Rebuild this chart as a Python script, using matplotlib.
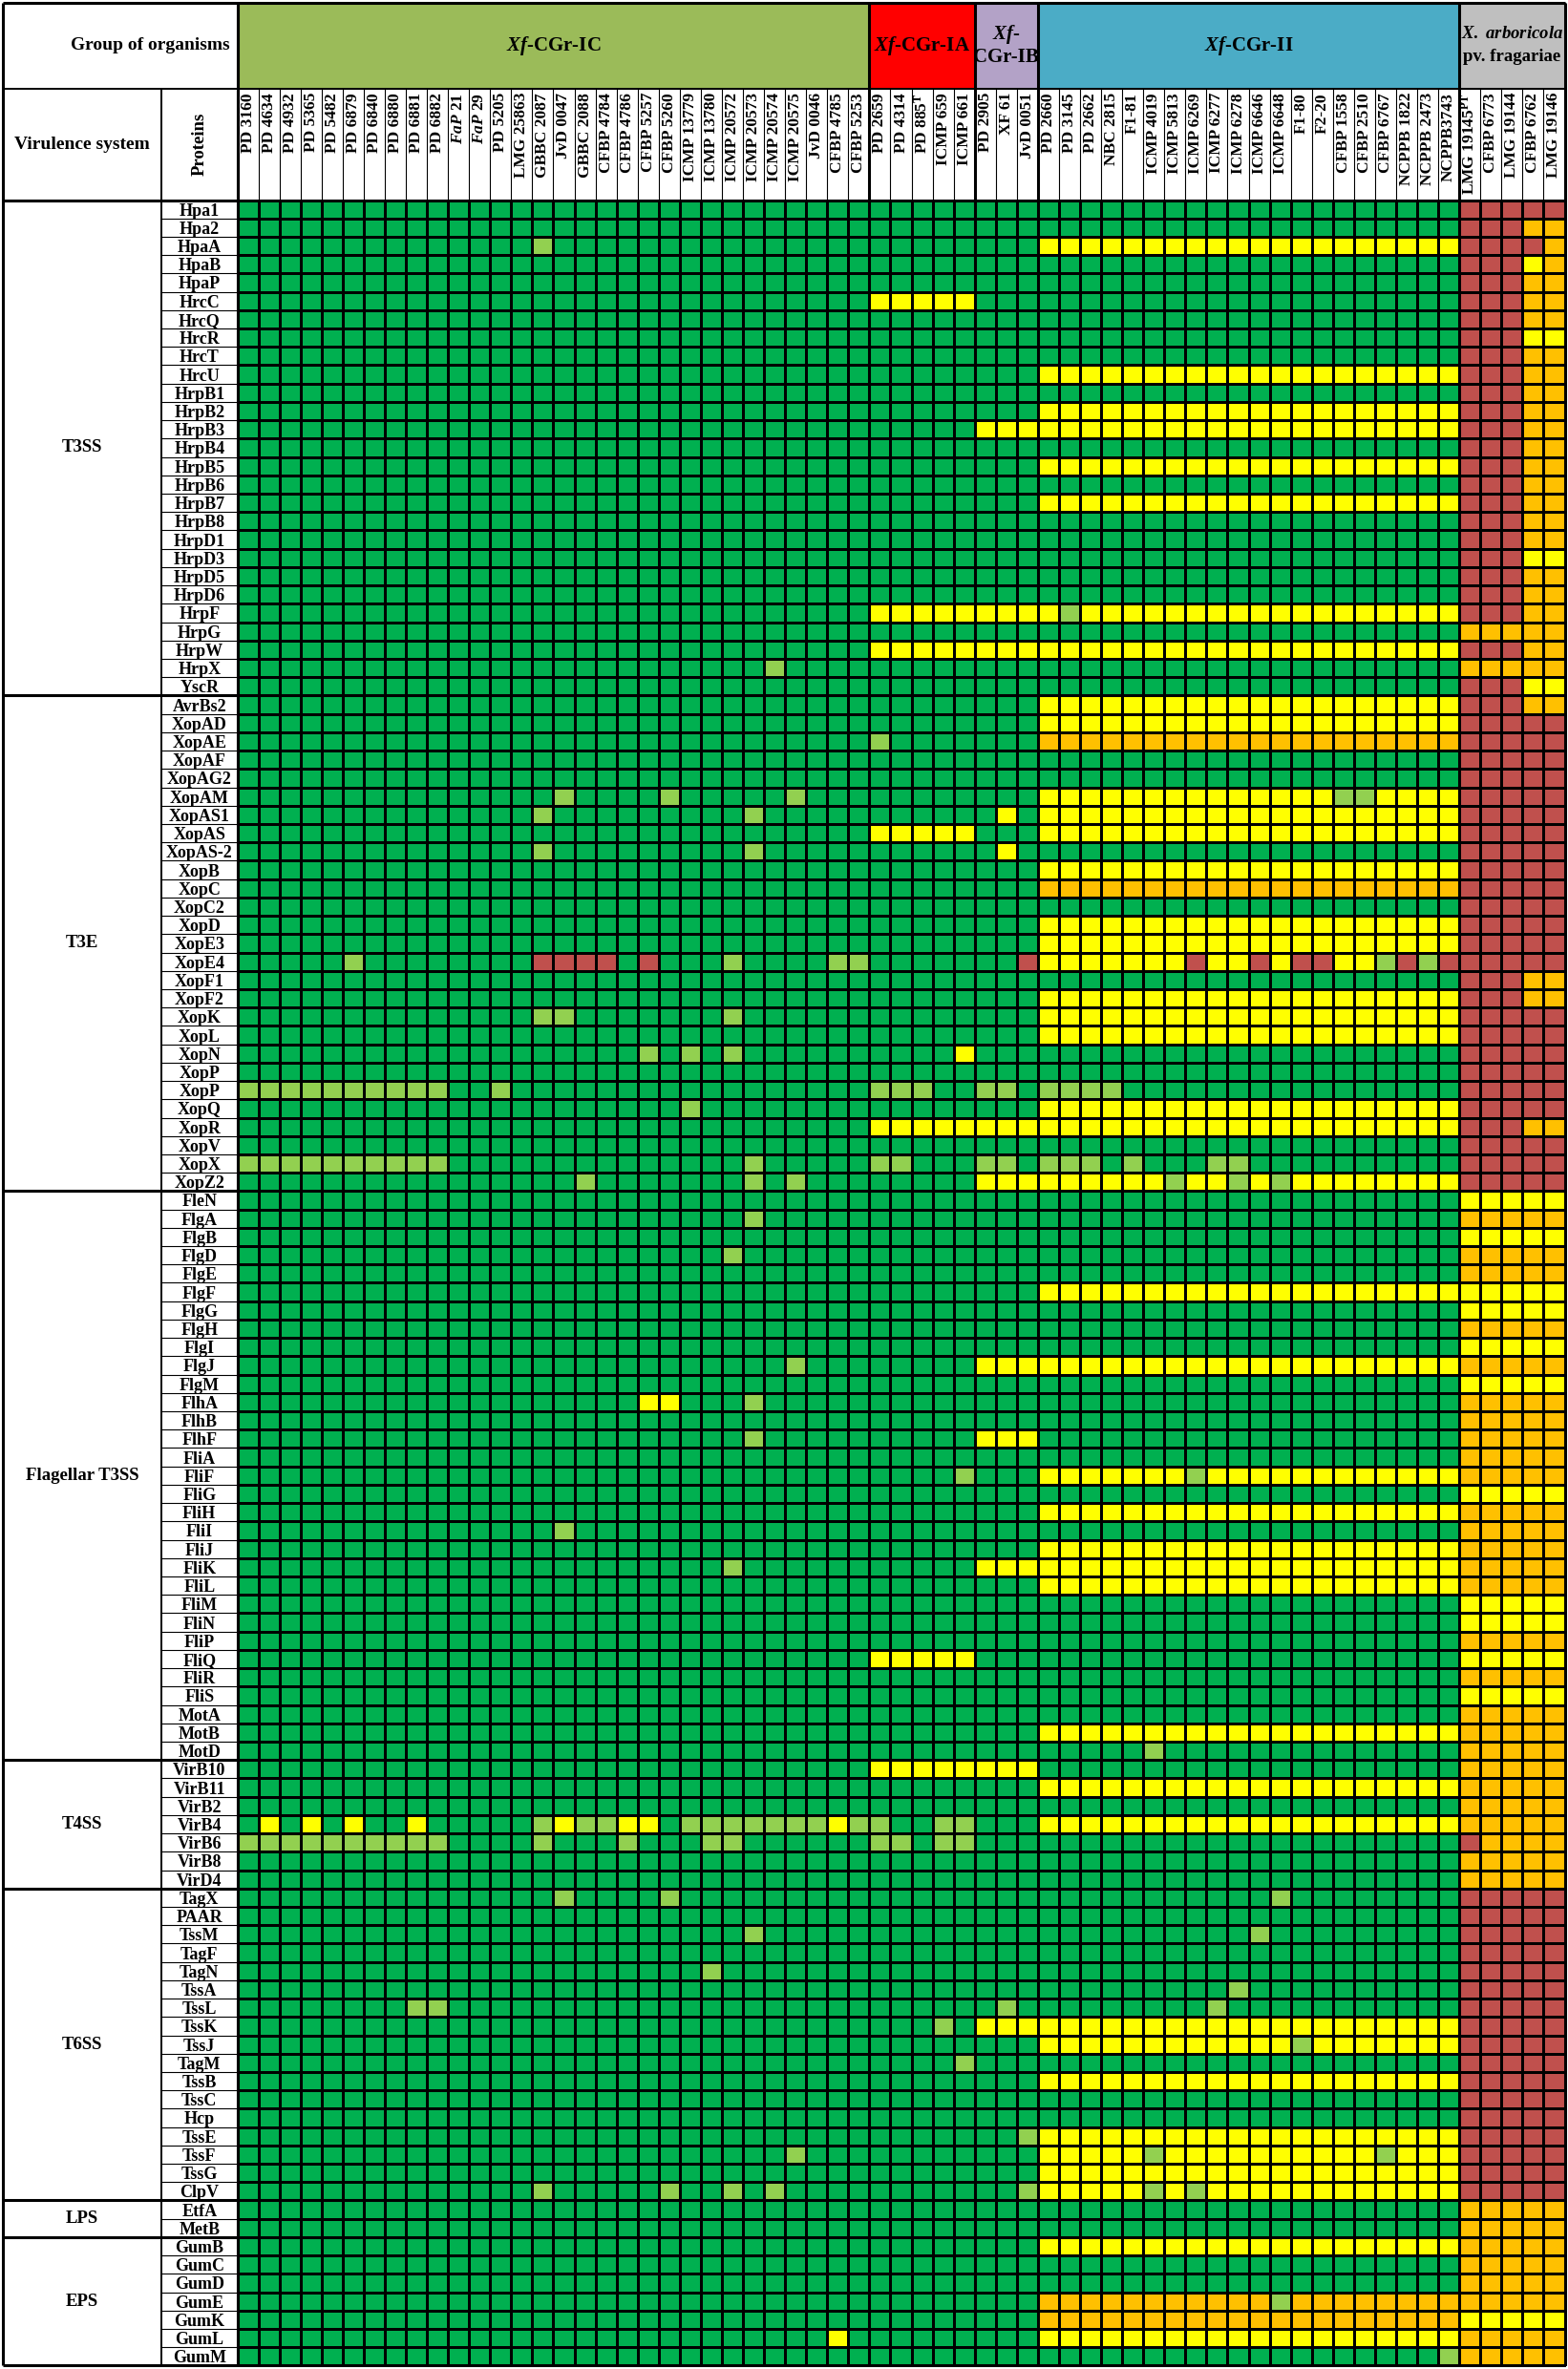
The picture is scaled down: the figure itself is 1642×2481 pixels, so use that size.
import numpy as np
import matplotlib.pyplot as plt
from matplotlib.colors import ListedColormap
from matplotlib.patches import Rectangle

plt.rcParams['font.family'] = ['Liberation Serif', 'DejaVu Serif']
plt.rcParams['font.weight'] = 'bold'
plt.rcParams['mathtext.fontset'] = 'custom'
plt.rcParams['mathtext.rm'] = 'Liberation Serif:bold'
plt.rcParams['mathtext.it'] = 'Liberation Serif:italic:bold'
plt.rcParams['mathtext.bf'] = 'Liberation Serif:bold'

# strain groups (columns)
group_colors = ['#9BBB59', '#FF0000', '#B3A2C7', '#4BACC6', '#BFBFBF']
ic_strains = ['PD 3160', 'PD 4634', 'PD 4932', 'PD 5365', 'PD 5482', 'PD 6879', 'PD 6840',
              'PD 6880', 'PD 6881', 'PD 6882', r'$\mathit{FaP}$ 21', r'$\mathit{FaP}$ 29',
              'PD 5205', 'LMG 25863', 'GBBC 2087', 'JvD 0047', 'GBBC 2088', 'CFBP 4784',
              'CFBP 4786', 'CFBP 5257', 'CFBP 5260', 'ICMP 13779', 'ICMP 13780', 'ICMP 20572',
              'ICMP 20573', 'ICMP 20574', 'ICMP 20575', 'JvD 0046', 'CFBP 4785', 'CFBP 5253']
ia_strains = ['PD 2659', 'PD 4314', r'PD 885$^{\mathrm{T}}$', 'ICMP 659', 'ICMP 661']
ib_strains = ['PD 2905', 'XF 61', 'JvD 0051']
ii_strains = ['PD 2660', 'PD 3145', 'PD 2662', 'NBC 2815', 'F1-81', 'ICMP 4019', 'ICMP 5813',
              'ICMP 6269', 'ICMP 6277', 'ICMP 6278', 'ICMP 6646', 'ICMP 6648', 'F1-80', 'F2-20',
              'CFBP 1558', 'CFBP 2510', 'CFBP 6767', 'NCPPB 1822', 'NCPPB 2473', 'NCPPB3743']
arb_strains = [r'LMG 19145$^{\mathrm{PT}}$', 'CFBP 6773', 'LMG 19144', 'CFBP 6762', 'LMG 19146']

# cell codes: G present, g light green, Y yellow, O orange, R absent (red)
# layout of each string: IC(10 10 10) | IA | IB | II(10 10) | X. arboricola
systems = ['T3SS', 'T3E', 'Flagellar T3SS', 'T4SS', 'T6SS', 'LPS', 'EPS']

t3ss_proteins = ['Hpa1', 'Hpa2', 'HpaA', 'HpaB', 'HpaP', 'HrcC', 'HrcQ', 'HrcR', 'HrcT', 'HrcU',
                 'HrpB1', 'HrpB2', 'HrpB3', 'HrpB4', 'HrpB5', 'HrpB6', 'HrpB7', 'HrpB8', 'HrpD1',
                 'HrpD3', 'HrpD5', 'HrpD6', 'HrpF', 'HrpG', 'HrpW', 'HrpX', 'YscR']
t3ss_cells = [
    'GGGGGGGGGG GGGGGGGGGG GGGGGGGGGG|GGGGG|GGG|GGGGGGGGGG GGGGGGGGGG|RRRRR',
    'GGGGGGGGGG GGGGGGGGGG GGGGGGGGGG|GGGGG|GGG|GGGGGGGGGG GGGGGGGGGG|RRROO',
    'GGGGGGGGGG GGGGgGGGGG GGGGGGGGGG|GGGGG|GGG|YYYYYYYYYY YYYYYYYYYY|RRRRO',
    'GGGGGGGGGG GGGGGGGGGG GGGGGGGGGG|GGGGG|GGG|GGGGGGGGGG GGGGGGGGGG|RRRYO',
    'GGGGGGGGGG GGGGGGGGGG GGGGGGGGGG|GGGGG|GGG|GGGGGGGGGG GGGGGGGGGG|RRROO',
    'GGGGGGGGGG GGGGGGGGGG GGGGGGGGGG|YYYYY|GGG|GGGGGGGGGG GGGGGGGGGG|RRROO',
    'GGGGGGGGGG GGGGGGGGGG GGGGGGGGGG|GGGGG|GGG|GGGGGGGGGG GGGGGGGGGG|RRROO',
    'GGGGGGGGGG GGGGGGGGGG GGGGGGGGGG|GGGGG|GGG|GGGGGGGGGG GGGGGGGGGG|RRRYY',
    'GGGGGGGGGG GGGGGGGGGG GGGGGGGGGG|GGGGG|GGG|GGGGGGGGGG GGGGGGGGGG|RRROO',
    'GGGGGGGGGG GGGGGGGGGG GGGGGGGGGG|GGGGG|GGG|YYYYYYYYYY YYYYYYYYYY|RRROO',
    'GGGGGGGGGG GGGGGGGGGG GGGGGGGGGG|GGGGG|GGG|GGGGGGGGGG GGGGGGGGGG|RRROO',
    'GGGGGGGGGG GGGGGGGGGG GGGGGGGGGG|GGGGG|GGG|YYYYYYYYYY YYYYYYYYYY|RRROO',
    'GGGGGGGGGG GGGGGGGGGG GGGGGGGGGG|GGGGG|YYY|YYYYYYYYYY YYYYYYYYYY|RRROO',
    'GGGGGGGGGG GGGGGGGGGG GGGGGGGGGG|GGGGG|GGG|GGGGGGGGGG GGGGGGGGGG|RRROO',
    'GGGGGGGGGG GGGGGGGGGG GGGGGGGGGG|GGGGG|GGG|YYYYYYYYYY YYYYYYYYYY|RRROO',
    'GGGGGGGGGG GGGGGGGGGG GGGGGGGGGG|GGGGG|GGG|GGGGGGGGGG GGGGGGGGGG|RRROO',
    'GGGGGGGGGG GGGGGGGGGG GGGGGGGGGG|GGGGG|GGG|YYYYYYYYYY YYYYYYYYYY|RRROO',
    'GGGGGGGGGG GGGGGGGGGG GGGGGGGGGG|GGGGG|GGG|GGGGGGGGGG GGGGGGGGGG|RRROO',
    'GGGGGGGGGG GGGGGGGGGG GGGGGGGGGG|GGGGG|GGG|GGGGGGGGGG GGGGGGGGGG|RRROO',
    'GGGGGGGGGG GGGGGGGGGG GGGGGGGGGG|GGGGG|GGG|GGGGGGGGGG GGGGGGGGGG|RRRYY',
    'GGGGGGGGGG GGGGGGGGGG GGGGGGGGGG|GGGGG|GGG|GGGGGGGGGG GGGGGGGGGG|RRROO',
    'GGGGGGGGGG GGGGGGGGGG GGGGGGGGGG|GGGGG|GGG|GGGGGGGGGG GGGGGGGGGG|RRROO',
    'GGGGGGGGGG GGGGGGGGGG GGGGGGGGGG|YYYYY|YYY|YgYYYYYYYY YYYYYYYYYY|RRROO',
    'GGGGGGGGGG GGGGGGGGGG GGGGGGGGGG|GGGGG|GGG|GGGGGGGGGG GGGGGGGGGG|OOOOO',
    'GGGGGGGGGG GGGGGGGGGG GGGGGGGGGG|YYYYY|YYY|YYYYYYYYYY YYYYYYYYYY|RRROO',
    'GGGGGGGGGG GGGGGGGGGG GGGGGgGGGG|GGGGG|GGG|GGGGGGGGGG GGGGGGGGGG|OOOOO',
    'GGGGGGGGGG GGGGGGGGGG GGGGGGGGGG|GGGGG|GGG|GGGGGGGGGG GGGGGGGGGG|RRRYY',
]

t3e_proteins = ['AvrBs2', 'XopAD', 'XopAE', 'XopAF', 'XopAG2', 'XopAM', 'XopAS1', 'XopAS',
                'XopAS-2', 'XopB', 'XopC', 'XopC2', 'XopD', 'XopE3', 'XopE4', 'XopF1', 'XopF2',
                'XopK', 'XopL', 'XopN', 'XopP', 'XopP', 'XopQ', 'XopR', 'XopV', 'XopX', 'XopZ2']
t3e_cells = [
    'GGGGGGGGGG GGGGGGGGGG GGGGGGGGGG|GGGGG|GGG|YYYYYYYYYY YYYYYYYYYY|RRROO',
    'GGGGGGGGGG GGGGGGGGGG GGGGGGGGGG|GGGGG|GGG|YYYYYYYYYY YYYYYYYYYY|RRRRR',
    'GGGGGGGGGG GGGGGGGGGG GGGGGGGGGG|gGGGG|GGG|OOOOOOOOOO OOOOOOOOOO|RRRRR',
    'GGGGGGGGGG GGGGGGGGGG GGGGGGGGGG|GGGGG|GGG|GGGGGGGGGG GGGGGGGGGG|RRRRR',
    'GGGGGGGGGG GGGGGGGGGG GGGGGGGGGG|GGGGG|GGG|GGGGGGGGGG GGGGGGGGGG|RRRRR',
    'GGGGGGGGGG GGGGGgGGGG gGGGGGgGGG|GGGGG|GGG|YYYYYYYYYY YYYYggYYYY|RRRRR',
    'GGGGGGGGGG GGGGgGGGGG GGGGgGGGGG|GGGGG|GYG|YYYYYYYYYY YYYYYYYYYY|RRRRR',
    'GGGGGGGGGG GGGGGGGGGG GGGGGGGGGG|YYYYY|GGG|YYYYYYYYYY YYYYYYYYYY|RRRRR',
    'GGGGGGGGGG GGGGgGGGGG GGGGgGGGGG|GGGGG|GYG|GGGGGGGGGG GGGGGGGGGG|RRRRR',
    'GGGGGGGGGG GGGGGGGGGG GGGGGGGGGG|GGGGG|GGG|YYYYYYYYYY YYYYYYYYYY|RRRRR',
    'GGGGGGGGGG GGGGGGGGGG GGGGGGGGGG|GGGGG|GGG|OOOOOOOOOO OOOOOOOOOO|RRRRR',
    'GGGGGGGGGG GGGGGGGGGG GGGGGGGGGG|GGGGG|GGG|GGGGGGGGGG GGGGGGGGGG|RRRRR',
    'GGGGGGGGGG GGGGGGGGGG GGGGGGGGGG|GGGGG|GGG|YYYYYYYYYY YYYYYYYYYY|RRRRR',
    'GGGGGGGGGG GGGGGGGGGG GGGGGGGGGG|GGGGG|GGG|YYYYYYYYYY YYYYYYYYYY|RRRRR',
    'GGGGGgGGGG GGGGRRRRGR GGGgGGGGgg|GGGGG|GGR|YYYYYYYRYY RYRRYYgRgR|RRRRR',
    'GGGGGGGGGG GGGGGGGGGG GGGGGGGGGG|GGGGG|GGG|GGGGGGGGGG GGGGGGGGGG|RRROO',
    'GGGGGGGGGG GGGGGGGGGG GGGGGGGGGG|GGGGG|GGG|YYYYYYYYYY YYYYYYYYYY|RRROO',
    'GGGGGGGGGG GGGGggGGGG GGGgGGGGGG|GGGGG|GGG|YYYYYYYYYY YYYYYYYYYY|RRRRR',
    'GGGGGGGGGG GGGGGGGGGG GGGGGGGGGG|GGGGG|GGG|YYYYYYYYYY YYYYYYYYYY|RRRRR',
    'GGGGGGGGGG GGGGGGGGGg GgGgGGGGGG|GGGGY|GGG|GGGGGGGGGG GGGGGGGGGG|RRRRR',
    'GGGGGGGGGG GGGGGGGGGG GGGGGGGGGG|GGGGG|GGG|GGGGGGGGGG GGGGGGGGGG|RRRRR',
    'gggggggggg GGgGGGGGGG GGGGGGGGGG|gggGG|ggG|ggggGGGGGG GGGGGGGGGG|RRRRR',
    'GGGGGGGGGG GGGGGGGGGG GgGGGGGGGG|GGGGG|GGG|YYYYYYYYYY YYYYYYYYYY|RRRRR',
    'GGGGGGGGGG GGGGGGGGGG GGGGGGGGGG|YYYYY|YYY|YYYYYYYYYY YYYYYYYYYY|RRROO',
    'GGGGGGGGGG GGGGGGGGGG GGGGGGGGGG|GGGGG|GGG|GGGGGGGGGG GGGGGGGGGG|RRRRR',
    'gggggggggg GGGGGGGGGG GGGGgGGGGG|ggGGG|ggG|gggGgGGGgg GGGGGGGGGG|RRRRR',
    'GGGGGGGGGG GGGGGGgGGG GGGGgGgGGG|GGGGG|YYY|YYYYYYgYYg YgYYYYYYYY|RRRRR',
]

flag_proteins = ['FleN', 'FlgA', 'FlgB', 'FlgD', 'FlgE', 'FlgF', 'FlgG', 'FlgH', 'FlgI', 'FlgJ',
                 'FlgM', 'FlhA', 'FlhB', 'FlhF', 'FliA', 'FliF', 'FliG', 'FliH', 'FliI', 'FliJ',
                 'FliK', 'FliL', 'FliM', 'FliN', 'FliP', 'FliQ', 'FliR', 'FliS', 'MotA', 'MotB',
                 'MotD']
flag_cells = [
    'GGGGGGGGGG GGGGGGGGGG GGGGGGGGGG|GGGGG|GGG|GGGGGGGGGG GGGGGGGGGG|YYYYY',
    'GGGGGGGGGG GGGGGGGGGG GGGGgGGGGG|GGGGG|GGG|GGGGGGGGGG GGGGGGGGGG|OOOOO',
    'GGGGGGGGGG GGGGGGGGGG GGGGGGGGGG|GGGGG|GGG|GGGGGGGGGG GGGGGGGGGG|YYYYY',
    'GGGGGGGGGG GGGGGGGGGG GGGgGGGGGG|GGGGG|GGG|GGGGGGGGGG GGGGGGGGGG|OOOOO',
    'GGGGGGGGGG GGGGGGGGGG GGGGGGGGGG|GGGGG|GGG|GGGGGGGGGG GGGGGGGGGG|OOOOO',
    'GGGGGGGGGG GGGGGGGGGG GGGGGGGGGG|GGGGG|GGG|YYYYYYYYYY YYYYYYYYYY|YYYYY',
    'GGGGGGGGGG GGGGGGGGGG GGGGGGGGGG|GGGGG|GGG|GGGGGGGGGG GGGGGGGGGG|YYYYY',
    'GGGGGGGGGG GGGGGGGGGG GGGGGGGGGG|GGGGG|GGG|GGGGGGGGGG GGGGGGGGGG|OOOOO',
    'GGGGGGGGGG GGGGGGGGGG GGGGGGGGGG|GGGGG|GGG|GGGGGGGGGG GGGGGGGGGG|YYYYY',
    'GGGGGGGGGG GGGGGGGGGG GGGGGGgGGG|GGGGG|YYY|YYYYYYYYYY YYYYYYYYYY|OOOOO',
    'GGGGGGGGGG GGGGGGGGGG GGGGGGGGGG|GGGGG|GGG|GGGGGGGGGG GGGGGGGGGG|YYYYY',
    'GGGGGGGGGG GGGGGGGGGY YGGGgGGGGG|GGGGG|GGG|GGGGGGGGGG GGGGGGGGGG|OOOOO',
    'GGGGGGGGGG GGGGGGGGGG GGGGGGGGGG|GGGGG|GGG|GGGGGGGGGG GGGGGGGGGG|OOOOO',
    'GGGGGGGGGG GGGGGGGGGG GGGGgGGGGG|GGGGG|YYY|GGGGGGGGGG GGGGGGGGGG|OOOOO',
    'GGGGGGGGGG GGGGGGGGGG GGGGGGGGGG|GGGGG|GGG|GGGGGGGGGG GGGGGGGGGG|OOOOO',
    'GGGGGGGGGG GGGGGGGGGG GGGGGGGGGG|GGGGg|GGG|YYYYYYYgYY YYYYYYYYYY|OOOOO',
    'GGGGGGGGGG GGGGGGGGGG GGGGGGGGGG|GGGGG|GGG|GGGGGGGGGG GGGGGGGGGG|YYYYY',
    'GGGGGGGGGG GGGGGGGGGG GGGGGGGGGG|GGGGG|GGG|YYYYYYYYYY YYYYYYYYYY|OOOOO',
    'GGGGGGGGGG GGGGGgGGGG GGGGGGGGGG|GGGGG|GGG|GGGGGGGGGG GGGGGGGGGG|OOOOO',
    'GGGGGGGGGG GGGGGGGGGG GGGGGGGGGG|GGGGG|GGG|YYYYYYYYYY YYYYYYYYYY|OOOOO',
    'GGGGGGGGGG GGGGGGGGGG GGGgGGGGGG|GGGGG|YYY|YYYYYYYYYY YYYYYYYYYY|OOOOO',
    'GGGGGGGGGG GGGGGGGGGG GGGGGGGGGG|GGGGG|GGG|YYYYYYYYYY YYYYYYYYYY|OOOOO',
    'GGGGGGGGGG GGGGGGGGGG GGGGGGGGGG|GGGGG|GGG|GGGGGGGGGG GGGGGGGGGG|YYYYY',
    'GGGGGGGGGG GGGGGGGGGG GGGGGGGGGG|GGGGG|GGG|GGGGGGGGGG GGGGGGGGGG|YYYYY',
    'GGGGGGGGGG GGGGGGGGGG GGGGGGGGGG|GGGGG|GGG|GGGGGGGGGG GGGGGGGGGG|OOOOO',
    'GGGGGGGGGG GGGGGGGGGG GGGGGGGGGG|YYYYY|GGG|GGGGGGGGGG GGGGGGGGGG|YYYYY',
    'GGGGGGGGGG GGGGGGGGGG GGGGGGGGGG|GGGGG|GGG|GGGGGGGGGG GGGGGGGGGG|OOOOO',
    'GGGGGGGGGG GGGGGGGGGG GGGGGGGGGG|GGGGG|GGG|GGGGGGGGGG GGGGGGGGGG|YYYYY',
    'GGGGGGGGGG GGGGGGGGGG GGGGGGGGGG|GGGGG|GGG|GGGGGGGGGG GGGGGGGGGG|OOOOO',
    'GGGGGGGGGG GGGGGGGGGG GGGGGGGGGG|GGGGG|GGG|YYYYYYYYYY YYYYYYYYYY|OOOOO',
    'GGGGGGGGGG GGGGGGGGGG GGGGGGGGGG|GGGGG|GGG|GGGGGgGGGG GGGGGGGGGG|OOOOO',
]

t4ss_proteins = ['VirB10', 'VirB11', 'VirB2', 'VirB4', 'VirB6', 'VirB8', 'VirD4']
t4ss_cells = [
    'GGGGGGGGGG GGGGGGGGGG GGGGGGGGGG|YYYYY|YYY|GGGGGGGGGG GGGGGGGGGG|OOOOO',
    'GGGGGGGGGG GGGGGGGGGG GGGGGGGGGG|GGGGG|GGG|YYYYYYYYYY YYYYYYYYYY|OOOOO',
    'GGGGGGGGGG GGGGGGGGGG GGGGGGGGGG|GGGGG|GGG|GGGGGGGGGG GGGGGGGGGG|OOOOO',
    'GYGYGYGGYG GGGGgYggYY GgggggggYg|gGGgg|GGG|YYYYYYYYYY YYYYYYYYYY|OOOOO',
    'gggggggggg GGGGgGGGgG GGggGGGGGG|ggGgg|GGG|GGGGGGGGGG GGGGGGGGGG|ROOOO',
    'GGGGGGGGGG GGGGGGGGGG GGGGGGGGGG|GGGGG|GGG|GGGGGGGGGG GGGGGGGGGG|OOOOO',
    'GGGGGGGGGG GGGGGGGGGG GGGGGGGGGG|GGGGG|GGG|GGGGGGGGGG GGGGGGGGGG|OOOOO',
]

t6ss_proteins = ['TagX', 'PAAR', 'TssM', 'TagF', 'TagN', 'TssA', 'TssL', 'TssK', 'TssJ', 'TagM',
                 'TssB', 'TssC', 'Hcp', 'TssE', 'TssF', 'TssG', 'ClpV']
t6ss_cells = [
    'GGGGGGGGGG GGGGGgGGGG gGGGGGGGGG|GGGGG|GGG|GGGGGGGGGG GgGGGGGGGG|RRRRR',
    'GGGGGGGGGG GGGGGGGGGG GGGGGGGGGG|GGGGG|GGG|GGGGGGGGGG GGGGGGGGGG|RRRRR',
    'GGGGGGGGGG GGGGGGGGGG GGGGgGGGGG|GGGGG|GGG|GGGGGGGGGG gGGGGGGGGG|RRRRR',
    'GGGGGGGGGG GGGGGGGGGG GGGGGGGGGG|GGGGG|GGG|GGGGGGGGGG GGGGGGGGGG|RRRRR',
    'GGGGGGGGGG GGGGGGGGGG GGgGGGGGGG|GGGGG|GGG|GGGGGGGGGG GGGGGGGGGG|RRRRR',
    'GGGGGGGGGG GGGGGGGGGG GGGGGGGGGG|GGGGG|GGG|GGGGGGGGGg GGGGGGGGGG|RRRRR',
    'GGGGGGGGgg GGGGGGGGGG GGGGGGGGGG|GGGGG|GgG|GGGGGGGGgG GGGGGGGGGG|RRRRR',
    'GGGGGGGGGG GGGGGGGGGG GGGGGGGGGG|GGGgG|YYY|YYYYYYYYYY YYYYYYYYYY|RRRRR',
    'GGGGGGGGGG GGGGGGGGGG GGGGGGGGGG|GGGGG|GGG|YYYYYYYYYY YYgYYYYYYY|RRRRR',
    'GGGGGGGGGG GGGGGGGGGG GGGGGGGGGG|GGGGg|GGG|GGGGGGGGGG GGGGGGGGGG|RRRRR',
    'GGGGGGGGGG GGGGGGGGGG GGGGGGGGGG|GGGGG|GGG|YYYYYYYYYY YYYYYYYYYY|RRRRR',
    'GGGGGGGGGG GGGGGGGGGG GGGGGGGGGG|GGGGG|GGG|GGGGGGGGGG GGGGGGGGGG|RRRRR',
    'GGGGGGGGGG GGGGGGGGGG GGGGGGGGGG|GGGGG|GGG|GGGGGGGGGG GGGGGGGGGG|RRRRR',
    'GGGGGGGGGG GGGGGGGGGG GGGGGGGGGG|GGGGG|GGg|YYYYYYYYYY YYYYYYYYYY|RRRRR',
    'GGGGGGGGGG GGGGGGGGGG GGGGGGgGGG|GGGGG|GGG|YYYYYgYYYY YYYYYYgYYY|RRRRR',
    'GGGGGGGGGG GGGGGGGGGG GGGGGGGGGG|GGGGG|GGG|YYYYYYYYYY YYYYYYYYYY|RRRRR',
    'GGGGGGGGGG GGGGgGGGGG gGGgGgGGGG|GGGGG|GGg|YYYYYgYgYY YYYYYYYYYY|RRRRR',
]

lps_proteins = ['EtfA', 'MetB']
lps_cells = [
    'GGGGGGGGGG GGGGGGGGGG GGGGGGGGGG|GGGGG|GGG|GGGGGGGGGG GGGGGGGGGG|OOOOO',
    'GGGGGGGGGG GGGGGGGGGG GGGGGGGGGG|GGGGG|GGG|GGGGGGGGGG GGGGGGGGGG|OOOOO',
]

eps_proteins = ['GumB', 'GumC', 'GumD', 'GumE', 'GumK', 'GumL', 'GumM']
eps_cells = [
    'GGGGGGGGGG GGGGGGGGGG GGGGGGGGGG|GGGGG|GGG|YYYYYYYYYY YYYYYYYYYY|OOOOO',
    'GGGGGGGGGG GGGGGGGGGG GGGGGGGGGG|GGGGG|GGG|GGGGGGGGGG GGGGGGGGGG|OOOOO',
    'GGGGGGGGGG GGGGGGGGGG GGGGGGGGGG|GGGGG|GGG|GGGGGGGGGG GGGGGGGGGG|OOOOO',
    'GGGGGGGGGG GGGGGGGGGG GGGGGGGGGG|GGGGG|GGG|OOOOOOOOOO OgOOOOOOOO|OOOOO',
    'GGGGGGGGGG GGGGGGGGGG GGGGGGGGGG|GGGGG|GGG|OOOOOOOOOO OOOOOOOOOO|YYYYY',
    'GGGGGGGGGG GGGGGGGGGG GGGGGGGGYG|GGGGG|GGG|YYYYYYYYYY YYYYYYYYYY|OOOOO',
    'GGGGGGGGGG GGGGGGGGGG GGGGGGGGGG|GGGGG|GGG|GGGGGGGGGG GGGGGGGGGg|OOOOO',
]

# assemble
groups = [ic_strains, ia_strains, ib_strains, ii_strains, arb_strains]
strains = sum(groups, [])
group_sizes = [len(g) for g in groups]
blocks = [(t3ss_proteins, t3ss_cells), (t3e_proteins, t3e_cells), (flag_proteins, flag_cells),
          (t4ss_proteins, t4ss_cells), (t6ss_proteins, t6ss_cells), (lps_proteins, lps_cells),
          (eps_proteins, eps_cells)]
proteins = sum([b[0] for b in blocks], [])
cells = sum([b[1] for b in blocks], [])
system_sizes = [len(b[0]) for b in blocks]

code = {'G': 0, 'g': 1, 'Y': 2, 'O': 3, 'R': 4}
matrix = np.array([[code[c] for c in r.replace(' ', '').replace('|', '')] for r in cells])
assert matrix.shape == (len(proteins), len(strains))
cmap = ListedColormap(['#00B050', '#92D050', '#FFFF00', '#FFC000', '#C0504D'])

# layout (pixels)
W, H = 1642, 2481
left, col_a, col_b, right = 3, 169, 248.5, 1638.5
top, head1, head2 = 3, 93, 209.5
row_h = 19.22
n_rows, n_cols = matrix.shape
col_w = (right - col_b) / n_cols
x_edges = col_b + col_w * np.arange(n_cols + 1)
y_edges = head2 + row_h * np.arange(n_rows + 1)
bottom = y_edges[-1]
thin, thick = 0.8, 2.2

fig = plt.figure(figsize=(W / 100, H / 100), dpi=100)
ax = fig.add_axes([0, 0, 1, 1])
ax.set_xlim(0, W)
ax.set_ylim(H, 0)
ax.axis('off')

ax.pcolormesh(x_edges, y_edges, matrix, cmap=cmap, vmin=-0.5, vmax=4.5,
              edgecolors='black', linewidth=thin)

# group header cells
gb = np.concatenate([[0], np.cumsum(group_sizes)])
for color, a, b in zip(group_colors, gb[:-1], gb[1:]):
    ax.add_patch(Rectangle((x_edges[a], top), x_edges[b] - x_edges[a], head1 - top,
                           facecolor=color, edgecolor='black', lw=thin))

gx = [(x_edges[a] + x_edges[b]) / 2 for a, b in zip(gb[:-1], gb[1:])]
gy = (top + head1) / 2
ax.text(gx[0], gy, r'$\mathit{Xf}$-CGr-IC', ha='center', va='center', fontsize=15)
ax.text(gx[1], gy, r'$\mathit{Xf}$-CGr-IA', ha='center', va='center', fontsize=15)
ax.text(gx[2], gy - 12, r'$\mathit{Xf}$-', ha='center', va='center', fontsize=15)
ax.text(gx[2], gy + 12, 'CGr-IB', ha='center', va='center', fontsize=15)
ax.text(gx[3], gy, r'$\mathit{Xf}$-CGr-II', ha='center', va='center', fontsize=15)
ax.text(gx[4], gy - 12, r'$\mathit{X.\ arboricola}$', ha='center', va='center', fontsize=13.5)
ax.text(gx[4], gy + 12, 'pv. fragariae', ha='center', va='center', fontsize=13.5)
ax.text(col_b - 8, gy, 'Group of organisms', ha='right', va='center', fontsize=14)

# strain names
ax.vlines(x_edges, head1, head2, color='black', lw=thin)
for j, s in enumerate(strains):
    ax.text((x_edges[j] + x_edges[j + 1]) / 2, head1 + 4, s, rotation=90,
            ha='center', va='top', fontsize=12.5)
ax.text((left + col_a) / 2, (head1 + head2) / 2, 'Virulence system',
        ha='center', va='center', fontsize=14)
ax.text((col_a + col_b) / 2, (head1 + head2) / 2, 'Proteins', rotation=90,
        ha='center', va='center', fontsize=13.5)

# protein labels
ax.hlines(y_edges, col_a, col_b, color='black', lw=thin)
for i, p in enumerate(proteins):
    ax.text((col_a + col_b) / 2, (y_edges[i] + y_edges[i + 1]) / 2, p,
            ha='center', va='center_baseline', fontsize=13)

# virulence systems
sb = np.concatenate([[0], np.cumsum(system_sizes)])
for s, a, b in zip(systems, sb[:-1], sb[1:]):
    ax.text((left + col_a) / 2, (y_edges[a] + y_edges[b]) / 2, s,
            ha='center', va='center', fontsize=13.5)
ax.hlines(y_edges[sb], left, right, color='black', lw=thick)

# frame lines
ax.hlines(head1, left, right, color='black', lw=1.4)
ax.hlines(top, left, right, color='black', lw=thick)
ax.vlines(col_a, head1, bottom, color='black', lw=1.4)
ax.vlines(col_b, top, bottom, color='black', lw=thick)
ax.vlines(x_edges[gb], top, bottom, color='black', lw=thick)
ax.vlines(left, top, bottom, color='black', lw=thick)

fig.savefig('out.png', dpi=100)
